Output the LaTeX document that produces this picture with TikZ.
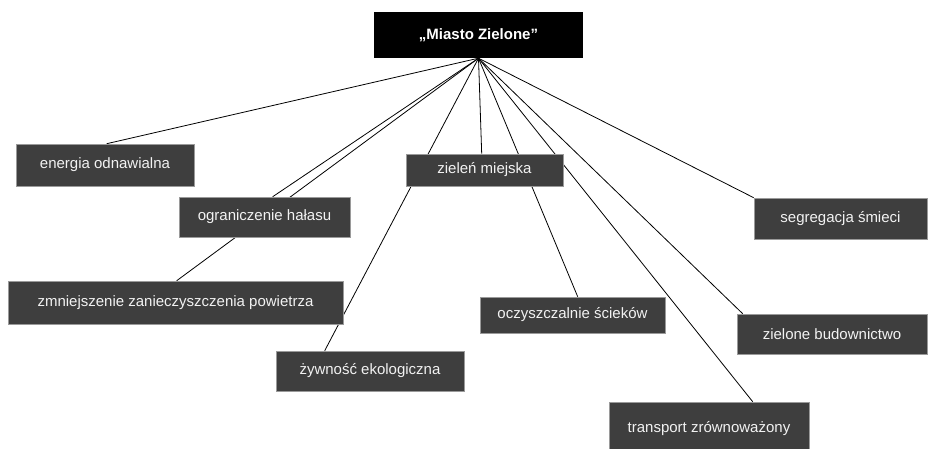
\documentclass[tikz,border=0pt]{standalone}
\usepackage{fontspec}
\setmainfont{Liberation Sans}
\usepackage{tikz}
\usetikzlibrary{backgrounds}

\definecolor{boxgray}{HTML}{3E3E3E}
\definecolor{rimgray}{HTML}{9A9A9A}
\definecolor{textgray}{HTML}{F2F2F2}

\begin{document}
\begin{tikzpicture}[x=1pt,y=-1pt]
\useasboundingbox (0,0) rectangle (929,448);

\tikzstyle{TopicStyle}=[draw=rimgray,line width=0.6pt,fill=boxgray,text=textgray,
  inner sep=0pt,font=\fontsize{15}{18}\selectfont]
\tikzstyle{TitleStyle}=[fill=black,text=white,inner sep=0pt,
  font=\fontsize{15}{18}\selectfont\bfseries]
\tikzstyle{EdgeStyle}=[black,line width=0.8pt]

\node[TitleStyle,minimum width=209pt,minimum height=46pt] (miasto) at (478.5,35) {„Miasto Zielone”};

\node[TopicStyle,minimum width=178pt,minimum height=42pt] (energia) at (105,165) {energia odnawialna};
\node[TopicStyle,minimum width=171pt,minimum height=40pt] (halas) at (264.5,217) {ograniczenie hałasu};
\node[TopicStyle,minimum width=335pt,minimum height=43pt] (powietrze) at (175.5,302.5) {zmniejszenie zanieczyszczenia powietrza};
\node[TopicStyle,minimum width=188pt,minimum height=40pt] (zywnosc) at (370,371) {żywność ekologiczna};
\node[TopicStyle,minimum width=157pt,minimum height=32pt] (zielen) at (484.5,170) {zieleń miejska};
\node[TopicStyle,minimum width=185pt,minimum height=36pt] (scieki) at (572.5,315) {oczyszczalnie ścieków};
\node[TopicStyle,minimum width=200pt,minimum height=54pt] (transport) at (709,429) {transport zrównoważony};
\node[TopicStyle,minimum width=173pt,minimum height=41pt] (smieci) at (840.5,218.5) {segregacja śmieci};
\node[TopicStyle,minimum width=190pt,minimum height=40pt] (budow) at (832,334) {zielone budownictwo};

% lines sit under the boxes
\begin{pgfonlayer}{background}
\foreach \n/\d in {energia/91,halas/94,powietrze/169,zywnosc/49,zielen/76,
                   scieki/98,transport/144,smieci/0,budow/6}
  \draw[EdgeStyle] (miasto.south) -- ([xshift=\d pt]\n.north west);
\end{pgfonlayer}

\end{tikzpicture}
\end{document}
